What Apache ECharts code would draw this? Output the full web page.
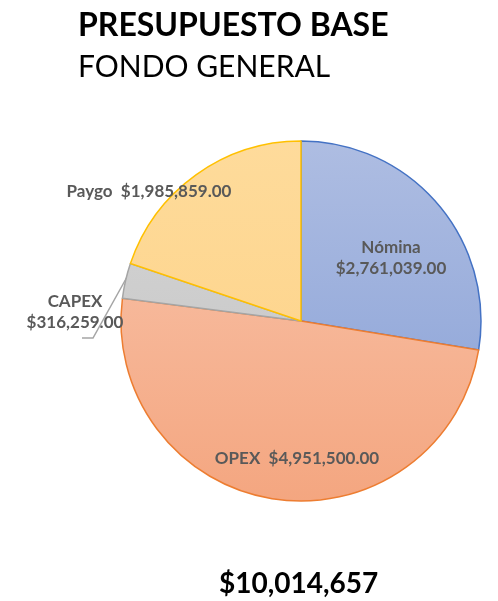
<!DOCTYPE html>
<html>
<head>
<meta charset="utf-8">
<script src="https://cdn.jsdelivr.net/npm/echarts@6/dist/echarts.min.js"></script>
<style>
  html, body { margin: 0; padding: 0; background: #fff; }
  #main { width: 498px; height: 601px; }
</style>
</head>
<body>
<div id="main"></div>
<script>
// datos del presupuesto
var categorias = ['Nómina', 'OPEX', 'CAPEX', 'Paygo'];
var montos = [2761039, 4951500, 316259, 1985859];

var fuente = 'Lato, "Open Sans", sans-serif';

// colores de cada rebanada: [arriba, abajo, borde]
var colores = [
    ['#aebde2', '#869fd6', '#4472c4'],
    ['#f9c6ae', '#f4a680', '#ed7d31'],
    ['#d6d6d6', '#c2c2c2', '#a5a5a5'],
    ['#fedb9b', '#fdd184', '#ffc000']
];

// posiciones de las etiquetas (centro del texto)
var posEtiquetas = [
    [391, 258],
    [297, 459],
    [75, 312],
    [149, 192]
];

function dinero(v, dec) {
    return '$' + v.toLocaleString('en-US', { minimumFractionDigits: dec, maximumFractionDigits: dec });
}

var total = montos.reduce(function (a, b) { return a + b; }, 0);

var myChart = echarts.init(document.getElementById('main'));

var datos = categorias.map(function (c, i) {
    var d = {
        name: c,
        value: montos[i],
        itemStyle: {
            color: new echarts.graphic.LinearGradient(0, 141, 0, 501, [
                { offset: 0, color: colores[i][0] },
                { offset: 1, color: colores[i][1] }
            ], true),
            borderColor: colores[i][2],
            borderWidth: 1.5
        },
        label: { position: (c === 'Nómina' || c === 'OPEX') ? 'inside' : 'outside' },
        labelLine: { show: false }
    };
    if (c === 'CAPEX') {
        d.labelLine = { show: true, lineStyle: { color: '#a5a5a5', width: 1.5 } };
    }
    return d;
});

var option = {
    backgroundColor: '#fff',
    animation: false,
    title: [
        {
            text: 'PRESUPUESTO BASE',
            left: 73, top: 5,
            textStyle: { fontFamily: fuente, fontWeight: 'bold', fontSize: 32, color: '#000' }
        },
        {
            text: 'FONDO GENERAL',
            left: 73, top: 47,
            textStyle: { fontFamily: fuente, fontWeight: 'normal', fontSize: 30, color: '#000' }
        },
        {
            text: dinero(total, 0),
            left: 214, top: 565,
            textStyle: { fontFamily: fuente, fontWeight: 'bold', fontSize: 28, color: '#000' }
        }
    ],
    series: [{
        type: 'pie',
        center: [301, 321],
        radius: 180,
        startAngle: 90,
        clockwise: true,
        avoidLabelOverlap: false,
        data: datos,
        label: {
            show: true,
            fontFamily: fuente,
            fontWeight: 'bold',
            fontSize: 17,
            lineHeight: 21,
            color: '#595959',
            align: 'center',
            overflow: 'none',
            formatter: function (p) {
                if (p.name === 'Nómina' || p.name === 'CAPEX') {
                    return p.name + '\n' + dinero(p.value, 2);
                }
                return p.name + '  ' + dinero(p.value, 2);
            }
        },
        labelLayout: function (p) {
            var pos = posEtiquetas[p.dataIndex];
            var r = {
                x: pos[0],
                y: pos[1],
                align: 'center',
                verticalAlign: 'middle'
            };
            if (p.dataIndex === 2) {
                // línea guía de CAPEX
                r.labelLinePoints = [[127, 277], [93, 338], [82, 338]];
            }
            return r;
        }
    }]
};

myChart.setOption(option);
</script>
</body>
</html>
